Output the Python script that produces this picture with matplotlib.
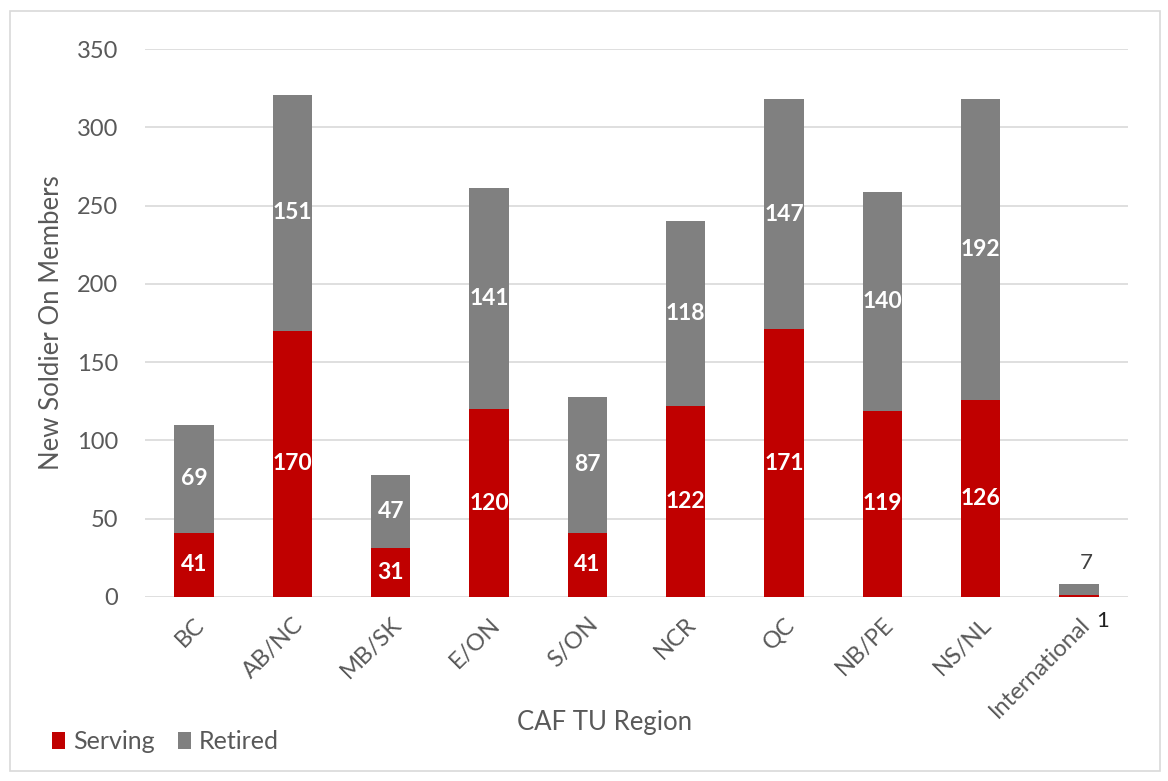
import numpy as np
import matplotlib.pyplot as plt
from matplotlib.patches import Rectangle

regions = ['BC', 'AB/NC', 'MB/SK', 'E/ON', 'S/ON', 'NCR', 'QC', 'NB/PE', 'NS/NL', 'International']
serving = [41, 170, 31, 120, 41, 122, 171, 119, 126, 1]
retired = [69, 151, 47, 141, 87, 118, 147, 140, 192, 7]

red = '#C00000'
grey = '#808080'
txt = '#595959'
plt.rcParams['font.family'] = ['Lato', 'DejaVu Sans']

fig = plt.figure(figsize=(11.68, 7.81), dpi=100)
ax = fig.add_axes([0.124, 0.2356, 0.842, 0.7014])

x = np.arange(len(regions))
b1 = ax.bar(x, serving, width=0.4, color=red, label='Serving', zorder=3)
b2 = ax.bar(x, retired, width=0.4, bottom=serving, color=grey, label='Retired', zorder=3)

# data labels inside the bars
for i in range(len(regions) - 1):
    ax.text(x[i], serving[i] / 2, str(serving[i]), ha='center', va='center',
            color='white', fontsize=16.5, fontweight='bold', zorder=4)
    ax.text(x[i], serving[i] + retired[i] / 2, str(retired[i]), ha='center', va='center',
            color='white', fontsize=16.5, fontweight='bold', zorder=4)
# tiny last bar gets its labels outside
last = len(regions) - 1
ax.annotate(str(retired[last]), (x[last], serving[last] + retired[last]), xytext=(5, 8),
            textcoords='offset points', ha='center', va='bottom', color='#404040', fontsize=16)
ax.annotate(str(serving[last]), (x[last], serving[last]), xytext=(17, -11),
            textcoords='offset points', ha='center', va='top', color='#202020', fontsize=16)

ax.set_xlim(-0.5, len(regions) - 0.5)
ax.set_ylim(0, 350)
ax.set_yticks(np.arange(0, 351, 50))
ax.yaxis.grid(True, color='#D9D9D9', linewidth=1.2, zorder=0)
ax.set_axisbelow(True)
for s in ax.spines.values():
    s.set_visible(False)
ax.tick_params(axis='both', length=0, labelsize=17, labelcolor=txt)
ax.tick_params(axis='y', pad=19)
ax.set_xticks(x)
ax.set_xticklabels(regions, rotation=45, ha='right', rotation_mode='anchor')
ax.tick_params(axis='x', pad=12)

ax.set_ylabel('New Soldier On Members', fontsize=18.5, color=txt)
ax.yaxis.label.set_va('center')
ax.yaxis.set_label_coords(-0.0946, 0.5)
fig.text(0.518, 0.0755, 'CAF TU Region', ha='center', va='center', fontsize=18.5, color=txt)

fig.legend(handles=[b1, b2], loc='center left', bbox_to_anchor=(0.0445, 0.05), ncol=2,
           frameon=False, fontsize=18, handlelength=0.52, handleheight=0.68, borderpad=0,
           borderaxespad=0, handletextpad=0.32, columnspacing=0.92, labelcolor=txt)

fig.patches.append(Rectangle((10 / 1168, 10 / 781), 1150 / 1168, 760 / 781,
                             transform=fig.transFigure, fill=False,
                             edgecolor='#D9D9D9', linewidth=1.2))

fig.savefig('out.png', dpi=100)
